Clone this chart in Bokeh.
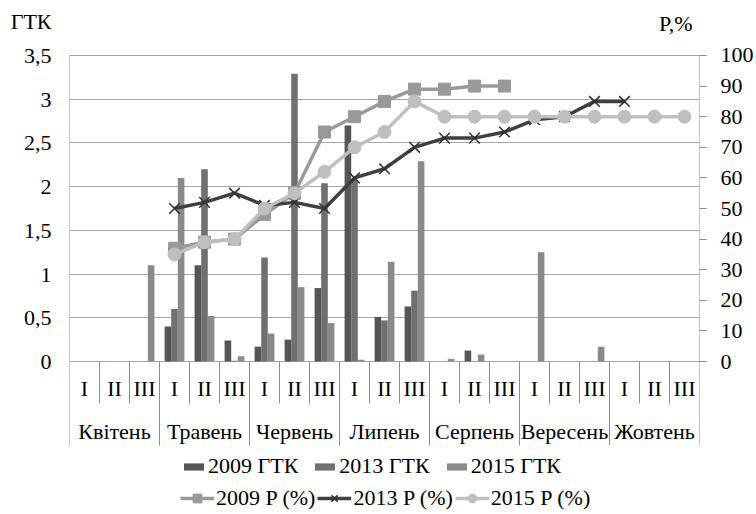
from bokeh.plotting import figure
from bokeh.models import (FactorRange, Range1d, LinearAxis, FixedTicker, CustomJSTickFormatter,
                          ColumnDataSource, Legend, LegendItem, Label)
from bokeh.transform import dodge
from bokeh.embed import file_html
from bokeh.resources import INLINE
from bokeh.core.properties import value

# ---------------- data ----------------
months = ["Квітень", "Травень", "Червень", "Липень", "Серпень", "Вересень", "Жовтень"]
decades = ["I", "II", "III"]

gtk_2009 = [0, 0, 0, 0.40, 1.10, 0.24, 0.17, 0.25, 0.84, 2.70, 0.51, 0.63,
            0, 0.125, 0, 0, 0, 0, 0, 0, 0]
gtk_2013 = [0, 0, 0, 0.60, 2.20, 0.01, 1.19, 3.29, 2.04, 2.08, 0.47, 0.81,
            0, 0, 0, 0, 0, 0, 0, 0, 0]
gtk_2015 = [0, 0, 1.10, 2.10, 0.52, 0.06, 0.32, 0.85, 0.44, 0.02, 1.14, 2.29,
            0.03, 0.08, 0, 1.25, 0, 0.17, 0, 0, 0]

p_2009 = [None, None, None, 37, 39, 40, 48, 55, 75, 80, 85, 89,
          89, 90, 90, None, None, None, None, None, None]
p_2013 = [None, None, None, 50, 52, 55, 51, 52, 50, 60, 63, 70,
          73, 73, 75, 79, 80, 85, 85, None, None]
p_2015 = [None, None, None, 35, 39, 40, 50, 55, 62, 70, 75, 85,
          80, 80, 80, 80, 80, 80, 80, 80, 80]

left_ticks = [0, 0.5, 1, 1.5, 2, 2.5, 3, 3.5]
right_ticks = [0, 10, 20, 30, 40, 50, 60, 70, 80, 90, 100]
left_title = "ГТК"
right_title = "P,%"

# ---------------- layout constants ----------------
FONT = "Liberation Serif"
FS = "22px"
W, H = 756, 514
PX_PER_UNIT = 87.43          # 0.5 ГТК step = ~43.7 px
Y_TOP = 3.5                  # top gridline
Y_FRAME_TOP = Y_TOP + 55 / PX_PER_UNIT
Y_BOTTOM = -(H - 361) / PX_PER_UNIT
P_TOP = 100
P_SCALE = P_TOP / Y_TOP
TITLE_Y = Y_TOP + 34 / PX_PER_UNIT
DEC_Y = -0.31
MON_Y = -0.80
SHORT_SEP = -0.48
LONG_SEP = -0.96

C09_BAR, C13_BAR, C15_BAR = "#555555", "#707070", "#8a8a8a"
C09_LINE, C13_LINE, C15_LINE = "#999999", "#404040", "#bfbfbf"
AX_COL = "#8c8c8c"

factors = [(m, d) for m in months for d in decades]


def nan(v):
    return float("nan") if v is None else v


src = ColumnDataSource(dict(
    f=factors,
    g09=gtk_2009, g13=gtk_2013, g15=gtk_2015,
    p09=[nan(v) for v in p_2009],
    p13=[nan(v) for v in p_2013],
    p15=[nan(v) for v in p_2015],
))

xr = FactorRange(*factors, factor_padding=0, group_padding=0, subgroup_padding=0, range_padding=0)

p = figure(width=W, height=H, x_range=xr, y_range=Range1d(Y_BOTTOM, Y_FRAME_TOP),
           output_backend="svg", toolbar_location=None,
           min_border_left=69, min_border_right=55, min_border_top=0, min_border_bottom=0)
p.extra_y_ranges = {"pct": Range1d(Y_BOTTOM * P_SCALE, Y_FRAME_TOP * P_SCALE)}
p.outline_line_color = None
p.background_fill_color = "white"
p.border_fill_color = "white"

p.xaxis.visible = False
p.xgrid.visible = False
yax = p.yaxis[0]
yax.ticker = FixedTicker(ticks=left_ticks + [TITLE_Y])
yax.formatter = CustomJSTickFormatter(
    args=dict(top=Y_TOP, title=left_title),
    code="return tick > top ? title : tick.toString().replace('.', ',');")
p.ygrid.ticker = FixedTicker(ticks=left_ticks)
p.ygrid.grid_line_color = "#a6a6a6"
p.ygrid.grid_line_width = 1

rax = LinearAxis(y_range_name="pct", ticker=FixedTicker(ticks=right_ticks))
p.add_layout(rax, "right")

for ax in (yax, rax):
    ax.axis_line_color = None
    ax.major_tick_line_color = AX_COL
    ax.major_tick_in = 0
    ax.minor_tick_line_color = None
    ax.major_label_text_font = FONT
    ax.major_label_text_font_size = FS
    ax.major_label_text_color = "black"
yax.major_tick_out = 0
yax.major_label_standoff = 18
rax.major_tick_out = 7
rax.major_label_standoff = 14

# bars
b09 = p.vbar(x=dodge("f", -0.22, range=xr), top="g09", width=0.22, source=src,
             fill_color=C09_BAR, line_color=None)
b13 = p.vbar(x=dodge("f", 0.0, range=xr), top="g13", width=0.22, source=src,
             fill_color=C13_BAR, line_color=None)
b15 = p.vbar(x=dodge("f", 0.22, range=xr), top="g15", width=0.22, source=src,
             fill_color=C15_BAR, line_color=None)

# category labels and separators (also serve as the two vertical axis lines)
lab = ColumnDataSource(dict(
    f=factors,
    dec=[d for m in months for d in decades],
    y_dec=[DEC_Y] * len(factors),
))
p.text(x="f", y="y_dec", text="dec", source=lab, text_font=value(FONT), text_font_size=FS,
       text_align="center", text_baseline="middle", text_color="black")
mon_src = ColumnDataSource(dict(f=[(m, "II") for m in months], t=months, y=[MON_Y] * len(months)))
p.text(x="f", y="y", text="t", source=mon_src, text_font=value(FONT), text_font_size=FS,
       text_align="center", text_baseline="middle", text_color="black")

sep_src = ColumnDataSource(dict(
    f=factors,
    y0=[Y_TOP if i == 0 else 0 for i in range(len(factors))],
    y1=[LONG_SEP if d == "I" else SHORT_SEP for m in months for d in decades],
))
p.segment(x0=dodge("f", -0.5, range=xr), x1=dodge("f", -0.5, range=xr), y0="y0", y1="y1",
          source=sep_src, line_color=AX_COL, line_width=1)
end_src = ColumnDataSource(dict(f=[factors[-1]], y0=[Y_TOP], y1=[LONG_SEP]))
p.segment(x0=dodge("f", 0.5, range=xr), x1=dodge("f", 0.5, range=xr), y0="y0", y1="y1",
          source=end_src, line_color=AX_COL, line_width=1)

# lines
l09 = p.line(x="f", y="p09", source=src, y_range_name="pct", line_color=C09_LINE, line_width=3.5)
m09 = p.scatter(x="f", y="p09", source=src, y_range_name="pct", marker="square", size=12,
                fill_color=C09_LINE, line_color=C09_LINE)
l13 = p.line(x="f", y="p13", source=src, y_range_name="pct", line_color=C13_LINE, line_width=3.5)
m13 = p.scatter(x="f", y="p13", source=src, y_range_name="pct", marker="x", size=15,
                line_color="#303030", line_width=1.5)
l15 = p.line(x="f", y="p15", source=src, y_range_name="pct", line_color=C15_LINE, line_width=3.5)
m15 = p.scatter(x="f", y="p15", source=src, y_range_name="pct", marker="circle", size=13,
                fill_color=C15_LINE, line_color=C15_LINE)

# right-hand axis title (inside the frame, above the top gridline)
p.add_layout(Label(x=623, y=H - 10, x_units="screen", y_units="screen", text=right_title,
                   text_font=FONT, text_font_size=FS, text_baseline="top", text_align="right",
                   text_color="black"))

# legends (lower part of the frame, below the category labels)
leg1 = Legend(items=[LegendItem(label="2009 ГТК", renderers=[b09]),
                     LegendItem(label="2013 ГТК", renderers=[b13]),
                     LegendItem(label="2015 ГТК", renderers=[b15])],
              orientation="horizontal", location=(112, 35), glyph_width=25, glyph_height=9,
              label_standoff=2, spacing=14, padding=0, margin=0)
leg2 = Legend(items=[LegendItem(label="2009 P (%)", renderers=[l09, m09]),
                     LegendItem(label="2013 P (%)", renderers=[l13, m13]),
                     LegendItem(label="2015 P (%)", renderers=[l15, m15])],
              orientation="horizontal", location=(111, 3), glyph_width=34, glyph_height=22,
              label_standoff=2, spacing=2, padding=0, margin=0)
for lg in (leg1, leg2):
    lg.label_text_font = FONT
    lg.label_text_font_size = FS
    lg.label_text_color = "black"
    lg.border_line_color = None
    lg.background_fill_alpha = 0
    p.add_layout(lg)

open("out.html", "w").write(file_html(p, INLINE))
